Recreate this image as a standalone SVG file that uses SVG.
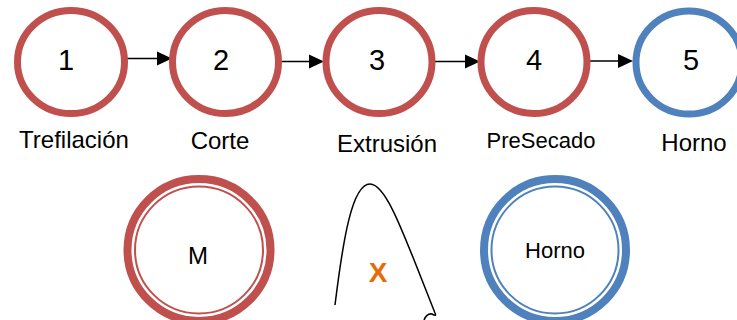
<svg xmlns="http://www.w3.org/2000/svg" width="737" height="320" viewBox="0 0 737 320">
<defs>
<style>
.red{fill:#fff;stroke:#C0504D;stroke-width:7}
.blue{fill:#fff;stroke:#4F81BD;stroke-width:7}
.num{font-family:"Liberation Sans",Arial,sans-serif;font-size:29px;fill:#000;text-anchor:middle}
.lbl{font-family:"Liberation Sans",Arial,sans-serif;font-size:24px;fill:#000;text-anchor:middle}
.in{font-family:"Liberation Sans",Arial,sans-serif;font-size:22px;fill:#000;text-anchor:middle}
.conn{stroke:#000;stroke-width:1.5;fill:none}
.head{fill:#000}
</style>
</defs>
<g id="connectors">
<path class="conn" d="M125,58.5 L158,58.5"/>
<path class="head" d="M157,51.5 L172,58.5 L157,65.5 Z"/>
<path class="conn" d="M277,61.5 L310,61.5"/>
<path class="head" d="M309,54.5 L324,61.5 L309,68.5 Z"/>
<path class="conn" d="M433,61.5 L466,61.5"/>
<path class="head" d="M465,54.5 L480,61.5 L465,68.5 Z"/>
<path class="conn" d="M586,61 L619,61"/>
<path class="head" d="M618,54 L633,61 L618,68 Z"/>
</g>
<g id="n1">
<ellipse class="red" cx="71" cy="62" rx="53.5" ry="51.5"/>
<text class="num" x="66" y="70">1</text>
<text class="lbl" x="74" y="148">Trefilación</text>
</g>
<g id="n2">
<ellipse class="red" cx="225.5" cy="62" rx="53" ry="51.5"/>
<text class="num" x="221" y="70">2</text>
<text class="lbl" x="220" y="149">Corte</text>
</g>
<g id="n3">
<ellipse class="red" cx="379" cy="62" rx="53" ry="51.5"/>
<text class="num" x="377" y="70">3</text>
<text class="lbl" x="387" y="152">Extrusión</text>
</g>
<g id="n4">
<ellipse class="red" cx="534" cy="62" rx="53" ry="51.5"/>
<text class="num" x="534" y="70">4</text>
<text class="in" x="541" y="148">PreSecado</text>
</g>
<g id="n5">
<ellipse class="blue" cx="689" cy="62.5" rx="53" ry="51.5"/>
<text class="num" x="691" y="70">5</text>
<text class="lbl" x="694" y="151">Horno</text>
</g>
<g id="m">
<ellipse cx="199" cy="250" rx="71.5" ry="71" fill="#fff" stroke="#C0504D" stroke-width="8"/>
<ellipse cx="199" cy="250" rx="64" ry="63.5" fill="none" stroke="#C0504D" stroke-width="2"/>
<text class="in" x="198" y="264" style="font-size:24px">M</text>
</g>
<g id="x">
<path d="M335,305 C343,240 352,184 370,184 C387,184 405,238 435,313 Q437,317 432,314 Q427,313 424,320" fill="none" stroke="#000" stroke-width="1.5"/>
<text x="378" y="282" font-family="'Liberation Sans',Arial,sans-serif" font-size="28" font-weight="bold" fill="#E46C0A" text-anchor="middle">X</text>
</g>
<g id="horno2">
<ellipse cx="555" cy="250" rx="71" ry="71" fill="#fff" stroke="#4F81BD" stroke-width="8"/>
<ellipse cx="555" cy="250" rx="63.5" ry="63.5" fill="none" stroke="#4F81BD" stroke-width="2"/>
<text class="in" x="555" y="258">Horno</text>
</g>
</svg>
